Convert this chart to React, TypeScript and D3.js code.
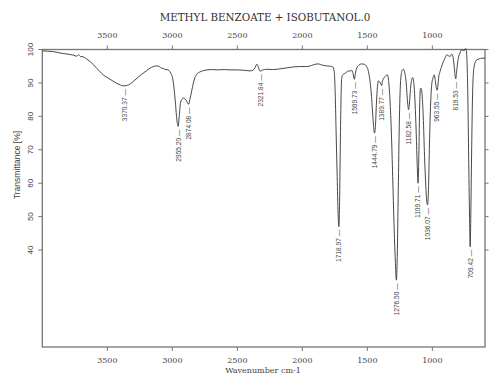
import React from 'react';
import * as d3 from 'd3';

// FT-IR transmittance spectrum, wavenumber (cm-1) descending left to right
const wavenumbers = [
  4000, 3960, 3920, 3880, 3840, 3800, 3760, 3735, 3722, 3705, 3685, 3660, 3633, 3605, 3582,
  3555, 3531, 3505, 3479, 3450, 3428, 3400, 3390, 3355, 3338, 3310, 3287, 3260, 3235, 3200,
  3172, 3145, 3120, 3100, 3082, 3065, 3056, 3040, 3025, 3010, 2998, 2987, 2975, 2965, 2946,
  2938, 2928, 2915, 2903, 2890, 2880, 2865, 2851, 2838, 2826, 2810, 2787, 2760, 2735, 2700,
  2650, 2600, 2556, 2500, 2450, 2402, 2380, 2364, 2350, 2340, 2330, 2310, 2290, 2274, 2230,
  2172, 2120, 2069, 2020, 1966, 1930, 1900, 1880, 1860, 1835, 1812, 1785, 1765, 1755, 1748,
  1740, 1732, 1725, 1714, 1709, 1704, 1698, 1690, 1675, 1664, 1645, 1633, 1620, 1610, 1592,
  1582, 1565, 1545, 1525, 1505, 1492, 1479, 1468, 1461, 1452, 1438, 1430, 1422, 1415, 1405,
  1395, 1384, 1377, 1365, 1350, 1343, 1335, 1326, 1315, 1305, 1295, 1285, 1270, 1262, 1254,
  1245, 1235, 1223, 1212, 1202, 1190, 1176, 1165, 1151, 1140, 1133, 1124, 1116, 1104, 1097,
  1091, 1085, 1078, 1070, 1060, 1050, 1044, 1030, 1022, 1013, 1005, 995, 985, 975, 958,
  950, 941, 928, 915, 900, 889, 875, 864, 851, 842, 833, 826, 814, 806, 800,
  787, 774, 765, 756, 748, 741, 735, 728, 722, 716, 711, 705, 699, 692, 684,
  672, 658, 640, 620, 595,
];

const transmittance = [
  99.6, 99.5, 99.4, 99.1, 98.8, 98.6, 98.3, 98.0, 98.4, 97.9, 97.8, 97.2, 96.4, 95.4, 94.4,
  93.3, 92.4, 91.7, 91.1, 90.4, 89.9, 89.4, 89.2, 89.2, 89.4, 90.1, 90.9, 91.8, 92.6, 93.6,
  94.4, 94.9, 95.1, 94.9, 94.4, 94.3, 94.0, 94.0, 93.7, 92.8, 91.5, 88.5, 83.5, 79.0, 80.5,
  83.8, 85.0, 85.5, 85.2, 84.6, 83.8, 85.0, 87.6, 90.0, 91.6, 92.7, 93.3, 93.7, 93.9, 94.0,
  93.9, 94.0, 93.9, 93.9, 93.8, 93.6, 93.8, 94.5, 95.6, 95.0, 93.8, 93.8, 94.0, 94.1, 94.0,
  94.2, 94.5, 94.8, 94.9, 94.9, 95.2, 95.6, 95.7, 95.5, 95.2, 95.1, 95.0, 94.8, 93.5, 88.0,
  75.0, 62.0, 51.0, 53.0, 68.0, 82.0, 91.0, 92.4, 92.8, 93.1, 93.6, 93.5, 93.8, 92.8, 92.8,
  94.4, 95.3, 95.7, 95.6, 94.9, 93.5, 90.4, 86.0, 82.0, 77.0, 77.0, 84.0, 89.0, 90.6, 90.3,
  89.6, 90.5, 91.2, 91.8, 92.4, 92.3, 90.0, 85.0, 75.0, 62.0, 48.0, 37.0, 38.0, 58.0, 78.0,
  90.0, 93.4, 94.1, 93.0, 90.4, 84.0, 84.0, 89.5, 91.6, 89.0, 84.0, 75.0, 65.0, 68.0, 84.0,
  88.4, 88.3, 86.0, 80.0, 68.0, 59.0, 55.0, 58.0, 72.0, 84.0, 89.4, 91.5, 92.4, 90.0, 89.0,
  92.0, 93.4, 95.0, 96.4, 97.6, 98.4, 98.1, 97.9, 98.6, 98.0, 95.4, 92.5, 93.0, 96.0, 97.4,
  99.0, 99.9, 99.8, 99.6, 100.2, 100.2, 98.0, 88.0, 72.0, 55.0, 44.0, 48.0, 66.0, 84.0, 93.0,
  96.0, 96.9, 97.2, 97.4, 97.4,
];

// Picked absorption bands
const peakWavenumbers = [
  3370.37, 2955.2, 2874.08, 2321.84, 1718.97, 1599.73, 1444.79, 1389.77,
  1276.5, 1182.58, 1109.71, 1036.07, 963.55, 819.53, 709.42,
];
const peakTransmittance = [
  89.1, 77.0, 83.6, 93.5, 47.0, 91.1, 75.0, 89.2,
  31.0, 82.0, 60.0, 53.5, 87.8, 91.2, 41.0,
];

const xTicks = [3500, 3000, 2500, 2000, 1500, 1000];
const yTicks = [40, 50, 60, 70, 80, 90, 100];

const TITLE = 'METHYL BENZOATE + ISOBUTANOL.0';
const X_LABEL = 'Wavenumber cm-1';
const Y_LABEL = 'Transmittance [%]';

const SERIF = "'DejaVu Serif', serif";
const SANS = "'Liberation Sans', Arial, sans-serif";

export default function App() {
  const left = 42.3;
  const right = 485;
  const top = 49.5;
  const bottom = 347;

  const x = d3.scaleLinear().domain([4000, 595]).range([left, right]);
  const y = d3.scaleLinear().domain([11, 100]).range([bottom, top]);

  const points: [number, number][] = wavenumbers
    .map((w, i) => [w, transmittance[i]] as [number, number])
    .concat(peakWavenumbers.map((w, i) => [w, peakTransmittance[i]] as [number, number]))
    .sort((a, b) => b[0] - a[0]);

  const line = d3
    .line<[number, number]>()
    .x((d) => x(d[0]))
    .y((d) => y(d[1]))
    .curve(d3.curveMonotoneX);

  const axisColor = '#777';

  return (
    <svg
      width={494}
      height={376}
      style={{ position: 'absolute', left: 0, top: 0, background: '#fff' }}
    >
      <rect x={0} y={0} width={494} height={376} fill="#fff" />
      <text x={265} y={20.5} textAnchor="middle" fontFamily={SERIF} fontSize={10.3} fill="#333">
        {TITLE}
      </text>

      {/* frame */}
      <rect
        x={left}
        y={top}
        width={right - left}
        height={bottom - top}
        fill="none"
        stroke={axisColor}
        strokeWidth={1.3}
      />

      {/* top and bottom wavenumber axes */}
      {xTicks.map((t) => (
        <g key={`xt${t}`}>
          <line x1={x(t)} x2={x(t)} y1={top} y2={top - 4} stroke={axisColor} strokeWidth={1} />
          <line x1={x(t)} x2={x(t)} y1={bottom} y2={bottom + 4} stroke={axisColor} strokeWidth={1} />
          <text x={x(t)} y={38.3} textAnchor="middle" fontFamily={SERIF} fontSize={8} fill="#444">
            {t}
          </text>
          <text x={x(t)} y={362.7} textAnchor="middle" fontFamily={SERIF} fontSize={8} fill="#444">
            {t}
          </text>
        </g>
      ))}

      {/* transmittance axes */}
      {yTicks.map((t) => (
        <g key={`yt${t}`}>
          <line x1={left} x2={left - 4} y1={y(t)} y2={y(t)} stroke={axisColor} strokeWidth={1} />
          <line x1={right} x2={right + 3.5} y1={y(t)} y2={y(t)} stroke={axisColor} strokeWidth={1} />
          <text
            transform={`translate(33,${y(t)}) rotate(-90)`}
            textAnchor="middle"
            fontFamily={SANS}
            fontSize={8}
            fill="#444"
          >
            {t}
          </text>
        </g>
      ))}

      <text x={263} y={373} textAnchor="middle" fontFamily={SERIF} fontSize={8} fill="#444">
        {X_LABEL}
      </text>
      <text
        transform={`translate(20,165) rotate(-90)`}
        textAnchor="middle"
        fontFamily={SANS}
        fontSize={8.5}
        fill="#444"
      >
        {Y_LABEL}
      </text>

      {/* spectrum */}
      <path d={line(points) ?? ''} fill="none" stroke="#333" strokeWidth={0.9} />

      {/* band labels */}
      {peakWavenumbers.map((w, i) => (
        <text
          key={`pk${w}`}
          transform={`translate(${x(w) + 2.4},${y(peakTransmittance[i]) + 3}) rotate(-90)`}
          textAnchor="end"
          fontFamily={SANS}
          fontSize={6.6}
          fill="#444"
        >
          {`${w.toFixed(2)} \u2014`}
        </text>
      ))}
    </svg>
  );
}
